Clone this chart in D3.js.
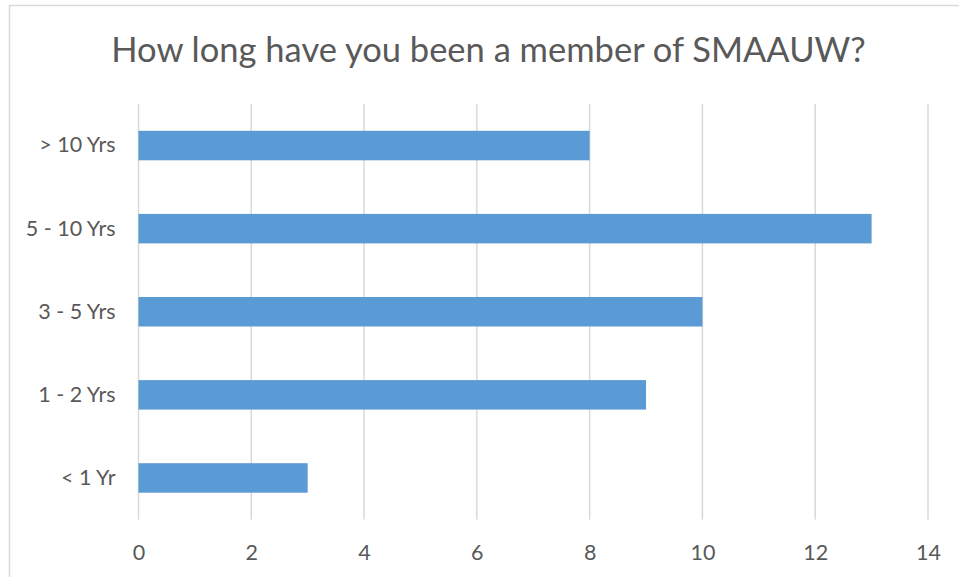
<!DOCTYPE html>
<html>
<head>
<meta charset="utf-8">
<script src="https://cdn.jsdelivr.net/npm/d3@7"></script>
<style>
  html, body { margin: 0; padding: 0; background: #fff; }
  svg { display: block; }
</style>
</head>
<body>
<div id="chart"></div>
<script>
/**
 * DATA
 * */
const title = "How long have you been a member of SMAAUW?";
const categories = ["> 10 Yrs", "5 - 10 Yrs", "3 - 5 Yrs", "1 - 2 Yrs", "< 1 Yr"];
const counts = [8, 13, 10, 9, 3];
const xTicks = [0, 2, 4, 6, 8, 10, 12, 14];

/**
 * CONSTANTS
 * */
const width = 959,
  height = 577,
  margin = { top: 104, bottom: 57.5, left: 138.5, right: 31 };

const font = "Lato, 'Open Sans', sans-serif";
const textColor = "#595959";
const gridColor = "#D9D9D9";

const svg = d3.select("#chart")
  .append("svg")
  .attr("width", width)
  .attr("height", height);

// chart area border (cut off on the right and bottom in the reference)
svg.append("rect")
  .attr("x", 9.5)
  .attr("y", 5.5)
  .attr("width", width + 20)
  .attr("height", height + 20)
  .attr("fill", "#fff")
  .attr("stroke", gridColor)
  .attr("stroke-width", 1.5);

const x = d3.scaleLinear()
  .domain([0, 14])
  .range([margin.left, width - margin.right]);

const y = d3.scaleBand()
  .domain(categories)
  .range([margin.top, height - margin.bottom])
  .paddingInner(0.645)
  .paddingOuter(0.3225);

// gridlines
svg.append("g")
  .selectAll("line")
  .data(xTicks)
  .join("line")
  .attr("x1", d => x(d))
  .attr("x2", d => x(d))
  .attr("y1", margin.top)
  .attr("y2", height - margin.bottom)
  .attr("stroke", gridColor)
  .attr("stroke-width", 1.5);

// bars
svg.append("g")
  .selectAll("rect")
  .data(categories)
  .join("rect")
  .attr("x", x(0))
  .attr("y", d => y(d))
  .attr("width", (d, i) => x(counts[i]) - x(0))
  .attr("height", y.bandwidth())
  .attr("fill", "#5B9BD5");

// x axis labels
const xAxis = svg.append("g")
  .attr("transform", `translate(0,${height - margin.bottom})`)
  .call(d3.axisBottom(x).tickValues(xTicks).tickSize(0).tickPadding(25));
xAxis.select(".domain").remove();
xAxis.selectAll("text")
  .attr("fill", textColor)
  .style("font-family", font)
  .style("font-size", "21.5px");

// y axis labels
const yAxis = svg.append("g")
  .attr("transform", `translate(${margin.left},0)`)
  .call(d3.axisLeft(y).tickSize(0).tickPadding(23));
yAxis.select(".domain").remove();
yAxis.selectAll("text")
  .attr("fill", textColor)
  .style("font-family", font)
  .style("font-size", "21.5px");

// title
svg.append("text")
  .attr("x", 488.5)
  .attr("y", 61.5)
  .attr("text-anchor", "middle")
  .attr("fill", textColor)
  .style("font-family", font)
  .style("font-size", "34.5px")
  .text(title);
</script>
</body>
</html>
